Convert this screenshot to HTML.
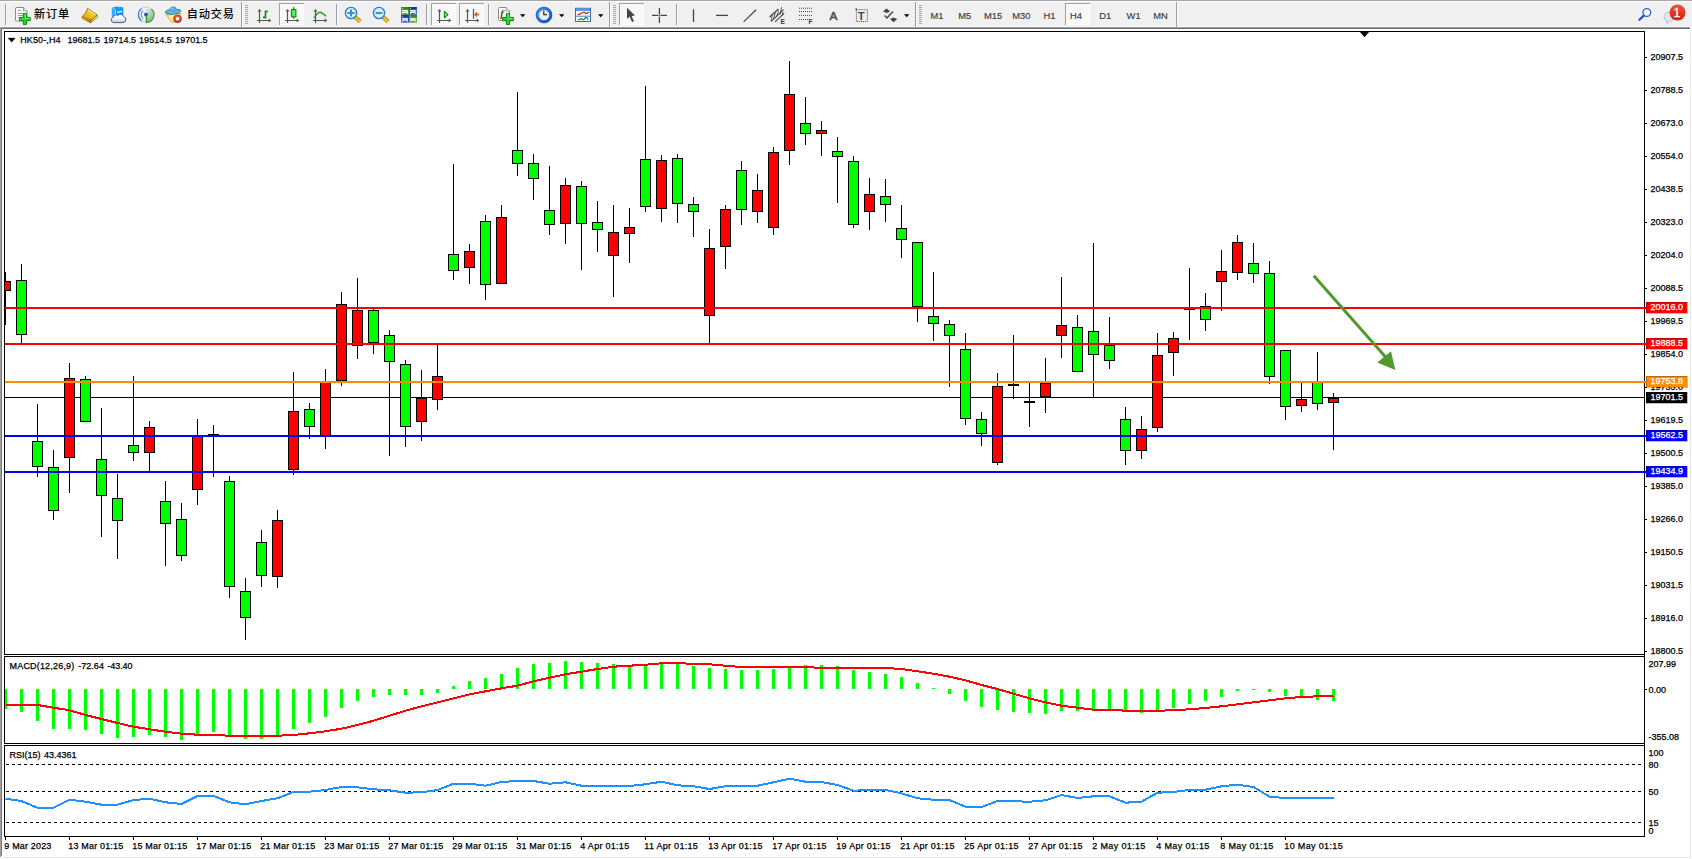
<!DOCTYPE html>
<html lang="zh"><head><meta charset="utf-8"><title>HK50-,H4</title>
<style>html,body{margin:0;padding:0;background:#fff;overflow:hidden}body{width:1692px;height:859px}svg text{white-space:pre}</style></head>
<body>
<svg width="1692" height="859" viewBox="0 0 1692 859" style="display:block">
<defs><linearGradient id="gold" x1="0" y1="0" x2="1" y2="1"><stop offset="0" stop-color="#ffe27a"/><stop offset="1" stop-color="#c8860a"/></linearGradient><linearGradient id="redg" x1="0" y1="0" x2="0" y2="1"><stop offset="0" stop-color="#e8553a"/><stop offset="1" stop-color="#d81e10"/></linearGradient><linearGradient id="blueg" x1="0" y1="0" x2="0" y2="1"><stop offset="0" stop-color="#7db8f0"/><stop offset="1" stop-color="#1c5fc0"/></linearGradient><linearGradient id="blueg2" x1="0" y1="0" x2="1" y2="1"><stop offset="0" stop-color="#3d8df0"/><stop offset="1" stop-color="#0a4fc0"/></linearGradient><linearGradient id="gold2" x1="1" y1="0" x2="0.2" y2="1"><stop offset="0" stop-color="#fff39a"/><stop offset="0.55" stop-color="#f0c21e"/><stop offset="1" stop-color="#e0a410"/></linearGradient><linearGradient id="gold3" x1="0" y1="0" x2="0.3" y2="1"><stop offset="0" stop-color="#f6dc8a"/><stop offset="1" stop-color="#b87a0a"/></linearGradient><linearGradient id="cloudg" x1="0" y1="0" x2="0" y2="1"><stop offset="0" stop-color="#ffffff"/><stop offset="0.5" stop-color="#f2f4fa"/><stop offset="1" stop-color="#b9c2da"/></linearGradient><linearGradient id="sigg" x1="0" y1="0" x2="0.4" y2="1"><stop offset="0" stop-color="#d4ead0"/><stop offset="1" stop-color="#3a9a3a"/></linearGradient><linearGradient id="yelg" x1="0" y1="0" x2="1" y2="0.6"><stop offset="0" stop-color="#f2cf3a"/><stop offset="0.5" stop-color="#fff590"/><stop offset="1" stop-color="#f2d040"/></linearGradient></defs>
<rect width="1692" height="859" fill="#fff"/>
<g id="toolbar">
<rect x="0" y="0" width="1692" height="27" fill="#f0f0f0"/>
<rect x="0" y="0" width="1692" height="1" fill="#a8a8a8"/>
<rect x="0" y="1" width="1692" height="1" fill="#fcfcfc"/>
<rect x="0" y="26" width="1692" height="1" fill="#f8f8f8"/>
<rect x="0" y="27" width="1690" height="1" fill="#a0a0a0"/>
<rect x="0" y="28" width="1690" height="1" fill="#6c6c6c"/>
<rect x="5" y="4" width="1" height="21" fill="#a0a0a0" shape-rendering="crispEdges"/><rect x="6" y="4" width="1" height="21" fill="#f8f8f8" shape-rendering="crispEdges"/>
<path d="M16.5 7.5 h7.0 l3.5 3.5 v9.0 q0 1 -1 1 h-9.5 q-1 0 -1 -1 v-11.5 q0 -1 1 -1 z" fill="#fdfdfd" stroke="#8a8a8a" stroke-width="1"/>
<path d="M23.5 7.5 v3.5 h3.5" fill="#e8e8e8" stroke="#8a8a8a" stroke-width="0.8"/>
<g stroke="#9a9a9a" stroke-width="1" shape-rendering="crispEdges"><path d="M18 10.5 h3 M18 13.5 h6 M18 15.5 h5 M18 17.5 h3"/></g>
<path d="M23.299999999999997 13.6 h3.2 v3.8000000000000003 h3.8000000000000003 v3.2 h-3.8000000000000003 v3.8000000000000003 h-3.2 v-3.8000000000000003 h-3.8000000000000003 v-3.2 h3.8000000000000003 z" fill="#2fd02f" stroke="#0d8c12" stroke-width="1"/>
<path d="M24.299999999999997 14.6 h1.2000000000000002 v3.8000000000000003 h3.8000000000000003 " fill="none" stroke="#9cf59c" stroke-width="0.8" opacity="0.8"/>
<text x="34" y="18.2" font-family="Liberation Sans, Noto Sans CJK SC, sans-serif" font-size="11.2" letter-spacing="0.8" font-weight="500" fill="#000">新订单</text>
<g stroke-linejoin="round"><path d="M97 14.7 L97.8 17 L90.5 22.8 L91.1 20.5 Z" fill="#eadfae" stroke="#9a6408" stroke-width="0.8"/><path d="M87.5 8.3 L97 14.7 L91.1 20.5 L82.2 16.6 Q85.4 13.4 86.2 12 Z" fill="url(#gold2)" stroke="#9a6408" stroke-width="0.9"/><path d="M82.2 16.6 L91.1 20.5 L90.4 22.8 L82.1 18.2 Z" fill="url(#gold3)" stroke="#9a6408" stroke-width="0.8"/><path d="M88 9.6 L95.6 14.7" stroke="#fff7b8" stroke-width="1" opacity="0.8" fill="none"/></g>
<g><path d="M112.2 8 L115.6 6.9 L123 7.6 L123 16 L112.2 16.4 Z" fill="#0a9cff" stroke="#0a78e0" stroke-width="0.5"/><path d="M112.6 8 L115.5 9.8 L115.5 16.4" fill="none" stroke="#e6f4ff" stroke-width="0.7"/><path d="M112.4 8.3 L115.2 10 L115.2 16.3 L112.4 16.3 Z" fill="#35b2ff"/><path d="M117 12.4 L122 11.4" stroke="#eaf6ff" stroke-width="1.2"/><path d="M113.4 22.6 h9.6 a3 3 0 0 0 0.6 -5.9 a3.3 3.3 0 0 0 -5.7 -1.3 a3 3 0 0 0 -4.6 1.6 a2.9 2.9 0 0 0 0.1 5.6 z" fill="url(#cloudg)" stroke="#4a6298" stroke-width="1"/></g>
<g fill="none"><circle cx="146" cy="14.7" r="7.6" stroke="#a9c6ea" stroke-width="1" opacity="0.9"/><path d="M146 14.7 L146 22.6 A7.9 7.9 0 0 0 150.4 8.1 Z" fill="url(#sigg)" opacity="0.6" stroke="none"/><path d="M146.3 22.5 A7.7 7.7 0 0 0 151.4 9" stroke="#3f8f4a" stroke-width="1.2" opacity="0.85"/><path d="M141.6 20.9 A7.7 7.7 0 0 1 141.4 8.6" stroke="#3d74da" stroke-width="1.2"/><path d="M143 18.6 A5 5 0 0 1 143 10.8" stroke="#5a8ce0" stroke-width="1.1"/><path d="M146 9.7 A5 5 0 0 1 150.8 13" stroke="#9fc0a0" stroke-width="1" opacity="0.8"/><circle cx="146" cy="14.5" r="1.9" fill="#2450d0" stroke="none"/><path d="M146.4 15 V22.8" stroke="#1f9a1f" stroke-width="1.3"/></g>
<g><path d="M165.6 13.8 L181 13.2 L173.4 22.4 Q172.4 23 171.6 22.2 Z" fill="url(#yelg)" stroke="#d0a520" stroke-width="0.8" stroke-linejoin="round"/><path d="M165.2 12.2 Q166.3 9.8 169.4 10 Q170 7 173 6.9 Q176 7 176.5 9.5 Q180.6 9.1 181 10.8 Q180 13.5 173.4 14.3 Q167 14.7 165.2 12.2 Z" fill="#62b2e4" stroke="#2781b0" stroke-width="1"/><path d="M169.6 10.4 Q173 12 176.6 9.9" stroke="#2d8cbc" stroke-width="0.6" fill="none" opacity="0.7"/><path d="M170.6 9 Q171.4 7.8 173 7.7" stroke="#c8e8fb" stroke-width="1" fill="none"/><circle cx="177.5" cy="18.7" r="4" fill="url(#redg)" stroke="#b81c0c" stroke-width="0.5"/><rect x="175.8" y="17.1" width="3.4" height="3.3" fill="#fff"/></g>
<text x="186.8" y="18.2" font-family="Liberation Sans, Noto Sans CJK SC, sans-serif" font-size="11.2" letter-spacing="0.8" font-weight="500" fill="#000">自动交易</text>
<rect x="241" y="2" width="1" height="25" fill="#9a9a9a" shape-rendering="crispEdges"/><rect x="242" y="2" width="1" height="25" fill="#fbfbfb" shape-rendering="crispEdges"/>
<rect x="245" y="5" width="3" height="1" fill="#a8a8a8" shape-rendering="crispEdges"/>
<rect x="245" y="7" width="3" height="1" fill="#a8a8a8" shape-rendering="crispEdges"/>
<rect x="245" y="9" width="3" height="1" fill="#a8a8a8" shape-rendering="crispEdges"/>
<rect x="245" y="11" width="3" height="1" fill="#a8a8a8" shape-rendering="crispEdges"/>
<rect x="245" y="13" width="3" height="1" fill="#a8a8a8" shape-rendering="crispEdges"/>
<rect x="245" y="15" width="3" height="1" fill="#a8a8a8" shape-rendering="crispEdges"/>
<rect x="245" y="17" width="3" height="1" fill="#a8a8a8" shape-rendering="crispEdges"/>
<rect x="245" y="19" width="3" height="1" fill="#a8a8a8" shape-rendering="crispEdges"/>
<rect x="245" y="21" width="3" height="1" fill="#a8a8a8" shape-rendering="crispEdges"/>
<rect x="245" y="23" width="3" height="1" fill="#a8a8a8" shape-rendering="crispEdges"/>
<g stroke="#555" stroke-width="1.2" fill="#555"><path d="M259.5 10 V23 M257.0 20.5 H269.5" fill="none"/><path d="M257.5 11.6 L259.5 9 L261.5 11.6 Z M268.7 18.6 L271.3 20.5 L268.7 22.4 Z" stroke="none"/></g>
<path d="M265.5 10.4 V18.6 M265.5 11.5 H268 M263 17.4 H265.5" stroke="#0f8a12" stroke-width="1.7" fill="none"/>
<rect x="279" y="3" width="25" height="22" fill="#f8f8f8" shape-rendering="crispEdges"/><rect x="279" y="3" width="25" height="1" fill="#a0a0a0" shape-rendering="crispEdges"/><rect x="279" y="3" width="1" height="22" fill="#a0a0a0" shape-rendering="crispEdges"/><rect x="303" y="4" width="1" height="21" fill="#fff" shape-rendering="crispEdges"/><rect x="280" y="24" width="24" height="1" fill="#fff" shape-rendering="crispEdges"/>
<g stroke="#555" stroke-width="1.2" fill="#555"><path d="M287.5 10 V23 M285.0 20.5 H297.5" fill="none"/><path d="M285.5 11.6 L287.5 9 L289.5 11.6 Z M296.7 18.6 L299.3 20.5 L296.7 22.4 Z" stroke="none"/></g>
<path d="M293.6 7.2 V18.8" stroke="#0f8a12" stroke-width="1.4"/><rect x="291.4" y="9.6" width="4.5" height="7.2" fill="#5fe85f" stroke="#0f8a12" stroke-width="1.1"/>
<g stroke="#555" stroke-width="1.2" fill="#555"><path d="M315.5 10 V23 M313.0 20.5 H325.5" fill="none"/><path d="M313.5 11.6 L315.5 9 L317.5 11.6 Z M324.7 18.6 L327.3 20.5 L324.7 22.4 Z" stroke="none"/></g>
<path d="M314 17.9 Q318 12 320 12.2 Q322 12.4 326 16.3" stroke="#1f9a1f" stroke-width="1.4" fill="none"/>
<rect x="336" y="4" width="1" height="21" fill="#a0a0a0" shape-rendering="crispEdges"/><rect x="337" y="4" width="1" height="21" fill="#f8f8f8" shape-rendering="crispEdges"/>
<path d="M355 17 L360.2 21.6" stroke="#a07a08" stroke-width="4" stroke-linecap="butt"/><path d="M355 17 L360.2 21.6" stroke="#ecc92c" stroke-width="2.4" stroke-linecap="butt"/><circle cx="351" cy="13" r="5.6" fill="#d9f0fd" stroke="#2d7fd2" stroke-width="1.4"/>
<path d="M347.4 13 H354.6 M351 9.4 V16.6" stroke="#3f8fc0" stroke-width="2"/>
<path d="M383 17 L388.2 21.6" stroke="#a07a08" stroke-width="4" stroke-linecap="butt"/><path d="M383 17 L388.2 21.6" stroke="#ecc92c" stroke-width="2.4" stroke-linecap="butt"/><circle cx="379" cy="13" r="5.6" fill="#d9f0fd" stroke="#2d7fd2" stroke-width="1.4"/>
<path d="M375.7 13 H382.3" stroke="#3f8fc0" stroke-width="2"/>
<rect x="401.2" y="7" width="7.8" height="7.8" fill="#46a01a"/><rect x="401.2" y="7" width="7.8" height="2" fill="#2e8a0c"/><path d="M402.4 13.9 v-3.8 h5.4 v3.8 h-1 v-1 h-3.4 v1 z" fill="#fff"/><rect x="403.4" y="11" width="3.4" height="0.8" fill="#46a01a" opacity="0.55"/><rect x="402.2" y="7.9" width="1" height="1" fill="#dfe" opacity="0.8"/>
<rect x="409" y="7" width="7.8" height="7.8" fill="#1f55d0"/><rect x="409" y="7" width="7.8" height="2" fill="#0c38a8"/><path d="M410.2 13.9 v-3.8 h5.4 v3.8 h-1 v-1 h-3.4 v1 z" fill="#fff"/><rect x="411.2" y="11" width="3.4" height="0.8" fill="#1f55d0" opacity="0.55"/><rect x="410" y="7.9" width="1" height="1" fill="#dfe" opacity="0.8"/>
<rect x="401.2" y="14.8" width="7.8" height="7.8" fill="#1f55d0"/><rect x="401.2" y="14.8" width="7.8" height="2" fill="#0c38a8"/><path d="M402.4 21.700000000000003 v-3.8 h5.4 v3.8 h-1 v-1 h-3.4 v1 z" fill="#fff"/><rect x="403.4" y="18.8" width="3.4" height="0.8" fill="#1f55d0" opacity="0.55"/><rect x="402.2" y="15.700000000000001" width="1" height="1" fill="#dfe" opacity="0.8"/>
<rect x="409" y="14.8" width="7.8" height="7.8" fill="#46a01a"/><rect x="409" y="14.8" width="7.8" height="2" fill="#2e8a0c"/><path d="M410.2 21.700000000000003 v-3.8 h5.4 v3.8 h-1 v-1 h-3.4 v1 z" fill="#fff"/><rect x="411.2" y="18.8" width="3.4" height="0.8" fill="#46a01a" opacity="0.55"/><rect x="410" y="15.700000000000001" width="1" height="1" fill="#dfe" opacity="0.8"/>
<rect x="426" y="4" width="1" height="21" fill="#a0a0a0" shape-rendering="crispEdges"/><rect x="427" y="4" width="1" height="21" fill="#f8f8f8" shape-rendering="crispEdges"/>
<rect x="431" y="3" width="25" height="22" fill="#f8f8f8" shape-rendering="crispEdges"/><rect x="431" y="3" width="25" height="1" fill="#a0a0a0" shape-rendering="crispEdges"/><rect x="431" y="3" width="1" height="22" fill="#a0a0a0" shape-rendering="crispEdges"/><rect x="455" y="4" width="1" height="21" fill="#fff" shape-rendering="crispEdges"/><rect x="432" y="24" width="24" height="1" fill="#fff" shape-rendering="crispEdges"/>
<g stroke="#555" stroke-width="1.2" fill="#555"><path d="M439.5 10 V23 M437.0 20.5 H449.5" fill="none"/><path d="M437.5 11.6 L439.5 9 L441.5 11.6 Z M448.7 18.6 L451.3 20.5 L448.7 22.4 Z" stroke="none"/></g>
<path d="M444.4 11.3 L448 14.6 L444.4 17.9 Z" fill="#7be87b" stroke="#0f8a12" stroke-width="1.1" stroke-linejoin="round"/>
<rect x="459" y="3" width="25" height="22" fill="#f8f8f8" shape-rendering="crispEdges"/><rect x="459" y="3" width="25" height="1" fill="#a0a0a0" shape-rendering="crispEdges"/><rect x="459" y="3" width="1" height="22" fill="#a0a0a0" shape-rendering="crispEdges"/><rect x="483" y="4" width="1" height="21" fill="#fff" shape-rendering="crispEdges"/><rect x="460" y="24" width="24" height="1" fill="#fff" shape-rendering="crispEdges"/>
<g stroke="#555" stroke-width="1.2" fill="#555"><path d="M467.5 10 V23 M465.0 20.5 H477.5" fill="none"/><path d="M465.5 11.6 L467.5 9 L469.5 11.6 Z M476.7 18.6 L479.3 20.5 L476.7 22.4 Z" stroke="none"/></g>
<path d="M473.5 9 V18.8" stroke="#1b6fa8" stroke-width="1.3"/><path d="M474.6 14.5 H479 M474.6 14.5 L477 12.4 M474.6 14.5 L477 16.6" stroke="#e05a10" stroke-width="1.3" fill="none"/>
<rect x="488" y="4" width="1" height="21" fill="#a0a0a0" shape-rendering="crispEdges"/><rect x="489" y="4" width="1" height="21" fill="#f8f8f8" shape-rendering="crispEdges"/>
<path d="M499.5 7.5 h6.5 l3.5 3.5 v8.5 q0 1 -1 1 h-9 q-1 0 -1 -1 v-11 q0 -1 1 -1 z" fill="#fdfdfd" stroke="#8a8a8a" stroke-width="1"/>
<path d="M506.0 7.5 v3.5 h3.5" fill="#e8e8e8" stroke="#8a8a8a" stroke-width="0.8"/>
<text x="500.2" y="17.4" font-family="Liberation Serif, serif" font-style="italic" font-weight="bold" font-size="10.5" fill="#4a4436">f</text>
<path d="M506.4 13.700000000000001 h3.2 v3.8000000000000003 h3.8000000000000003 v3.2 h-3.8000000000000003 v3.8000000000000003 h-3.2 v-3.8000000000000003 h-3.8000000000000003 v-3.2 h3.8000000000000003 z" fill="#2fd02f" stroke="#0d8c12" stroke-width="1"/>
<path d="M507.4 14.700000000000001 h1.2000000000000002 v3.8000000000000003 h3.8000000000000003 " fill="none" stroke="#9cf59c" stroke-width="0.8" opacity="0.8"/>
<path d="M520 14.2 h5.4 l-2.7 3 z" fill="#000"/>
<circle cx="544" cy="15" r="6.7" fill="#eef1f6" stroke="url(#blueg2)" stroke-width="2.7"/><circle cx="544" cy="15" r="8" fill="none" stroke="#0a3f9a" stroke-width="0.5"/><circle cx="548.40" cy="15.00" r="0.38" fill="#777"/><circle cx="547.81" cy="17.20" r="0.38" fill="#777"/><circle cx="546.20" cy="18.81" r="0.38" fill="#777"/><circle cx="544.00" cy="19.40" r="0.38" fill="#777"/><circle cx="541.80" cy="18.81" r="0.38" fill="#777"/><circle cx="540.19" cy="17.20" r="0.38" fill="#777"/><circle cx="539.60" cy="15.00" r="0.38" fill="#777"/><circle cx="540.19" cy="12.80" r="0.38" fill="#777"/><circle cx="541.80" cy="11.19" r="0.38" fill="#777"/><circle cx="544.00" cy="10.60" r="0.38" fill="#777"/><circle cx="546.20" cy="11.19" r="0.38" fill="#777"/><circle cx="547.81" cy="12.80" r="0.38" fill="#777"/><path d="M543.8 15.2 V10.6 M543.6 14.8 L547 14.6" stroke="#222" stroke-width="1.1" fill="none"/><path d="M544 17.4 h0.1" stroke="#5aa0ff" stroke-width="1.2"/>
<path d="M559 14.2 h5.4 l-2.7 3 z" fill="#000"/>
<rect x="575.5" y="8.3" width="15" height="13.2" fill="#fff" stroke="#2f6fc4" stroke-width="1"/><rect x="576" y="8.8" width="14" height="2.2" fill="#5a98e0"/><path d="M576 16.2 H590" stroke="#3f7fd0" stroke-width="1"/><path d="M577.6 14.3 H579.6 L581 13 H582.6 L583.6 12.4 H584.8 L585.6 13.3 H587.4 L588.4 12.4 H589.2" stroke="#b02a14" stroke-width="1.2" fill="none"/><path d="M578.2 19.6 H579.8 L580.8 18.8 H582 L582.8 19.6 H583.8 L585.4 17.6 H586.6 L588.2 19.6" stroke="#158a1c" stroke-width="1.2" fill="none"/>
<path d="M598 14.2 h5.4 l-2.7 3 z" fill="#000"/>
<rect x="609" y="2" width="1" height="25" fill="#9a9a9a" shape-rendering="crispEdges"/><rect x="610" y="2" width="1" height="25" fill="#fbfbfb" shape-rendering="crispEdges"/>
<rect x="613" y="5" width="3" height="1" fill="#a8a8a8" shape-rendering="crispEdges"/>
<rect x="613" y="7" width="3" height="1" fill="#a8a8a8" shape-rendering="crispEdges"/>
<rect x="613" y="9" width="3" height="1" fill="#a8a8a8" shape-rendering="crispEdges"/>
<rect x="613" y="11" width="3" height="1" fill="#a8a8a8" shape-rendering="crispEdges"/>
<rect x="613" y="13" width="3" height="1" fill="#a8a8a8" shape-rendering="crispEdges"/>
<rect x="613" y="15" width="3" height="1" fill="#a8a8a8" shape-rendering="crispEdges"/>
<rect x="613" y="17" width="3" height="1" fill="#a8a8a8" shape-rendering="crispEdges"/>
<rect x="613" y="19" width="3" height="1" fill="#a8a8a8" shape-rendering="crispEdges"/>
<rect x="613" y="21" width="3" height="1" fill="#a8a8a8" shape-rendering="crispEdges"/>
<rect x="613" y="23" width="3" height="1" fill="#a8a8a8" shape-rendering="crispEdges"/>
<rect x="619" y="3" width="25" height="22" fill="#f8f8f8" shape-rendering="crispEdges"/><rect x="619" y="3" width="25" height="1" fill="#a0a0a0" shape-rendering="crispEdges"/><rect x="619" y="3" width="1" height="22" fill="#a0a0a0" shape-rendering="crispEdges"/><rect x="643" y="4" width="1" height="21" fill="#fff" shape-rendering="crispEdges"/><rect x="620" y="24" width="24" height="1" fill="#fff" shape-rendering="crispEdges"/>
<path d="M627 7.8 L627 18.9 L629.6 16.6 L632 22 L634 21.2 L631.6 15.9 L635 15.5 Z" fill="#454545"/>
<path d="M652 15.4 H658.4 M660.4 15.4 H667 M659.4 8 V14.4 M659.4 16.4 V23" stroke="#454545" stroke-width="1.3"/><rect x="659" y="15" width="0.9" height="0.9" fill="#454545"/>
<rect x="676" y="4" width="1" height="21" fill="#a0a0a0" shape-rendering="crispEdges"/><rect x="677" y="4" width="1" height="21" fill="#f8f8f8" shape-rendering="crispEdges"/>
<path d="M693.5 9.3 V22" stroke="#454545" stroke-width="1.3"/>
<path d="M716 15.4 H728" stroke="#454545" stroke-width="1.3"/>
<path d="M743.6 21.9 L756.1 9.7" stroke="#454545" stroke-width="1.2"/>
<g stroke="#454545" stroke-width="1.1" fill="none"><path d="M769.6 17 L778.4 9 M771 21.6 L783.6 9.6 M775 21.8 L784.2 13.4"/><path d="M772.4 14 L771.2 20.6 M775.4 12 L773.6 19 M778.6 10.6 L776.4 17 M781.6 7.2 L780.2 14.6 M783 12 L782 16" stroke-width="0.9"/></g>
<text x="780.6" y="23.8" font-family="Liberation Sans, sans-serif" font-weight="bold" font-size="6.6" fill="#333">E</text>
<path d="M799 8.2 H812.6" stroke="#454545" stroke-width="1" stroke-dasharray="1 1"/>
<path d="M799 11.5 H812.6" stroke="#454545" stroke-width="1" stroke-dasharray="1 1"/>
<path d="M799 15.4 H812.6" stroke="#454545" stroke-width="1" stroke-dasharray="1 1"/>
<path d="M799 19.5 H808.5" stroke="#454545" stroke-width="1" stroke-dasharray="1 1"/>
<text x="808.6" y="23.8" font-family="Liberation Sans, sans-serif" font-weight="bold" font-size="6.6" fill="#333">F</text>
<text x="829.6" y="19.9" font-family="Liberation Sans, sans-serif" font-size="11.8" fill="#4a4a4a" stroke="#4a4a4a" stroke-width="0.5">A</text>
<rect x="856.4" y="9.7" width="11" height="11.8" fill="none" stroke="#454545" stroke-width="1" stroke-dasharray="1 1"/><rect x="855.4" y="8.4" width="1.6" height="1.4" fill="#454545"/>
<text x="857.7" y="19.6" font-family="Liberation Sans, sans-serif" font-weight="bold" font-size="11.4" fill="#4a4a4a">T</text>
<path d="M883 11.6 L886.6 8.6 L890.2 11.6 L886.6 13 Z M890 19 L893.6 22.2 L897.2 19 L893.6 17.6 Z" fill="#454545"/><path d="M884.6 15.6 L887 18 L893 11.6" stroke="#454545" stroke-width="1.4" fill="none"/>
<path d="M904 14.2 h5.4 l-2.7 3 z" fill="#000"/>
<rect x="915" y="2" width="1" height="25" fill="#9a9a9a" shape-rendering="crispEdges"/><rect x="916" y="2" width="1" height="25" fill="#fbfbfb" shape-rendering="crispEdges"/>
<rect x="919" y="5" width="3" height="1" fill="#a8a8a8" shape-rendering="crispEdges"/>
<rect x="919" y="7" width="3" height="1" fill="#a8a8a8" shape-rendering="crispEdges"/>
<rect x="919" y="9" width="3" height="1" fill="#a8a8a8" shape-rendering="crispEdges"/>
<rect x="919" y="11" width="3" height="1" fill="#a8a8a8" shape-rendering="crispEdges"/>
<rect x="919" y="13" width="3" height="1" fill="#a8a8a8" shape-rendering="crispEdges"/>
<rect x="919" y="15" width="3" height="1" fill="#a8a8a8" shape-rendering="crispEdges"/>
<rect x="919" y="17" width="3" height="1" fill="#a8a8a8" shape-rendering="crispEdges"/>
<rect x="919" y="19" width="3" height="1" fill="#a8a8a8" shape-rendering="crispEdges"/>
<rect x="919" y="21" width="3" height="1" fill="#a8a8a8" shape-rendering="crispEdges"/>
<rect x="919" y="23" width="3" height="1" fill="#a8a8a8" shape-rendering="crispEdges"/>
<rect x="1065" y="3" width="25" height="22" fill="#f8f8f8" shape-rendering="crispEdges"/><rect x="1065" y="3" width="25" height="1" fill="#a0a0a0" shape-rendering="crispEdges"/><rect x="1065" y="3" width="1" height="22" fill="#a0a0a0" shape-rendering="crispEdges"/><rect x="1089" y="4" width="1" height="21" fill="#fff" shape-rendering="crispEdges"/><rect x="1066" y="24" width="24" height="1" fill="#fff" shape-rendering="crispEdges"/>
<text x="930.4" y="18.6" font-family="Liberation Sans, sans-serif" font-size="9.4" fill="#3a3a3a" stroke="#3a3a3a" stroke-width="0.15">M1</text>
<text x="958.3" y="18.6" font-family="Liberation Sans, sans-serif" font-size="9.4" fill="#3a3a3a" stroke="#3a3a3a" stroke-width="0.15">M5</text>
<text x="984" y="18.6" font-family="Liberation Sans, sans-serif" font-size="9.4" fill="#3a3a3a" stroke="#3a3a3a" stroke-width="0.15">M15</text>
<text x="1012.3" y="18.6" font-family="Liberation Sans, sans-serif" font-size="9.4" fill="#3a3a3a" stroke="#3a3a3a" stroke-width="0.15">M30</text>
<text x="1043.4" y="18.6" font-family="Liberation Sans, sans-serif" font-size="9.4" fill="#3a3a3a" stroke="#3a3a3a" stroke-width="0.15">H1</text>
<text x="1070" y="18.6" font-family="Liberation Sans, sans-serif" font-size="9.4" fill="#3a3a3a" stroke="#3a3a3a" stroke-width="0.15">H4</text>
<text x="1099.2" y="18.6" font-family="Liberation Sans, sans-serif" font-size="9.4" fill="#3a3a3a" stroke="#3a3a3a" stroke-width="0.15">D1</text>
<text x="1126.6" y="18.6" font-family="Liberation Sans, sans-serif" font-size="9.4" fill="#3a3a3a" stroke="#3a3a3a" stroke-width="0.15">W1</text>
<text x="1153.2" y="18.6" font-family="Liberation Sans, sans-serif" font-size="9.4" fill="#3a3a3a" stroke="#3a3a3a" stroke-width="0.15">MN</text>
<rect x="1176" y="2" width="1" height="25" fill="#a0a0a0" shape-rendering="crispEdges"/><rect x="1177" y="2" width="1" height="25" fill="#f8f8f8" shape-rendering="crispEdges"/>
<circle cx="1646.8" cy="12.5" r="3.9" fill="#f4f8ff" stroke="#2a5fd0" stroke-width="1.3"/><path d="M1643.8 15.6 L1639.4 19.8" stroke="#1f50c8" stroke-width="2.2" stroke-linecap="round"/>
<path d="M1664 17 a5.2 4.6 0 1 1 5.4 4.4 l-2.6 2.2 l0.2 -2.4 a5 4.4 0 0 1 -3 -4.2 z" fill="#e4e6ee" stroke="#b4b6be" stroke-width="0.8"/>
<circle cx="1677.5" cy="12.5" r="8" fill="url(#redg)"/>
<text x="1673.5" y="16.7" font-family="Liberation Sans, sans-serif" font-size="12" fill="#fff" stroke="#fff" stroke-width="0.3">1</text>
</g>
<rect x="0" y="27" width="1" height="830" fill="#a0a0a0"/>
<rect x="1" y="28" width="1" height="828" fill="#787878"/>
<rect x="1690" y="29" width="1" height="829" fill="#e6e6e6"/>
<rect x="1" y="857" width="1690" height="1" fill="#e6e6e6"/>
<g shape-rendering="crispEdges">
<rect x="5" y="397" width="1639" height="1" fill="#000"/>
<rect x="5" y="272" width="1" height="53" fill="#000"/>
<rect x="5" y="281" width="6" height="10" fill="#000"/>
<rect x="5" y="282" width="5" height="8" fill="#FF0000"/>
<rect x="21" y="264" width="1" height="79" fill="#000"/>
<rect x="16" y="280" width="11" height="55" fill="#000"/>
<rect x="17" y="281" width="9" height="53" fill="#00FF00"/>
<rect x="37" y="404" width="1" height="73" fill="#000"/>
<rect x="32" y="441" width="11" height="26" fill="#000"/>
<rect x="33" y="442" width="9" height="24" fill="#00FF00"/>
<rect x="53" y="450" width="1" height="70" fill="#000"/>
<rect x="48" y="467" width="11" height="44" fill="#000"/>
<rect x="49" y="468" width="9" height="42" fill="#00FF00"/>
<rect x="69" y="363" width="1" height="130" fill="#000"/>
<rect x="64" y="378" width="11" height="80" fill="#000"/>
<rect x="65" y="379" width="9" height="78" fill="#FF0000"/>
<rect x="85" y="376" width="1" height="46" fill="#000"/>
<rect x="80" y="379" width="11" height="43" fill="#000"/>
<rect x="81" y="380" width="9" height="41" fill="#00FF00"/>
<rect x="101" y="408" width="1" height="129" fill="#000"/>
<rect x="96" y="459" width="11" height="37" fill="#000"/>
<rect x="97" y="460" width="9" height="35" fill="#00FF00"/>
<rect x="117" y="474" width="1" height="85" fill="#000"/>
<rect x="112" y="498" width="11" height="23" fill="#000"/>
<rect x="113" y="499" width="9" height="21" fill="#00FF00"/>
<rect x="133" y="376" width="1" height="85" fill="#000"/>
<rect x="128" y="445" width="11" height="8" fill="#000"/>
<rect x="129" y="446" width="9" height="6" fill="#00FF00"/>
<rect x="149" y="421" width="1" height="50" fill="#000"/>
<rect x="144" y="427" width="11" height="26" fill="#000"/>
<rect x="145" y="428" width="9" height="24" fill="#FF0000"/>
<rect x="165" y="481" width="1" height="85" fill="#000"/>
<rect x="160" y="501" width="11" height="23" fill="#000"/>
<rect x="161" y="502" width="9" height="21" fill="#00FF00"/>
<rect x="181" y="503" width="1" height="58" fill="#000"/>
<rect x="176" y="519" width="11" height="37" fill="#000"/>
<rect x="177" y="520" width="9" height="35" fill="#00FF00"/>
<rect x="197" y="419" width="1" height="86" fill="#000"/>
<rect x="192" y="435" width="11" height="55" fill="#000"/>
<rect x="193" y="436" width="9" height="53" fill="#FF0000"/>
<rect x="213" y="425" width="1" height="52" fill="#000"/>
<rect x="208" y="434" width="11" height="1" fill="#000"/>
<rect x="229" y="476" width="1" height="122" fill="#000"/>
<rect x="224" y="481" width="11" height="106" fill="#000"/>
<rect x="225" y="482" width="9" height="104" fill="#00FF00"/>
<rect x="245" y="578" width="1" height="62" fill="#000"/>
<rect x="240" y="591" width="11" height="27" fill="#000"/>
<rect x="241" y="592" width="9" height="25" fill="#00FF00"/>
<rect x="261" y="530" width="1" height="57" fill="#000"/>
<rect x="256" y="542" width="11" height="34" fill="#000"/>
<rect x="257" y="543" width="9" height="32" fill="#00FF00"/>
<rect x="277" y="510" width="1" height="78" fill="#000"/>
<rect x="272" y="520" width="11" height="57" fill="#000"/>
<rect x="273" y="521" width="9" height="55" fill="#FF0000"/>
<rect x="293" y="372" width="1" height="103" fill="#000"/>
<rect x="288" y="411" width="11" height="59" fill="#000"/>
<rect x="289" y="412" width="9" height="57" fill="#FF0000"/>
<rect x="309" y="403" width="1" height="36" fill="#000"/>
<rect x="304" y="409" width="11" height="18" fill="#000"/>
<rect x="305" y="410" width="9" height="16" fill="#00FF00"/>
<rect x="325" y="369" width="1" height="80" fill="#000"/>
<rect x="320" y="382" width="11" height="54" fill="#000"/>
<rect x="321" y="383" width="9" height="52" fill="#FF0000"/>
<rect x="341" y="292" width="1" height="94" fill="#000"/>
<rect x="336" y="304" width="11" height="77" fill="#000"/>
<rect x="337" y="305" width="9" height="75" fill="#FF0000"/>
<rect x="357" y="278" width="1" height="81" fill="#000"/>
<rect x="352" y="310" width="11" height="36" fill="#000"/>
<rect x="353" y="311" width="9" height="34" fill="#FF0000"/>
<rect x="373" y="308" width="1" height="46" fill="#000"/>
<rect x="368" y="310" width="11" height="33" fill="#000"/>
<rect x="369" y="311" width="9" height="31" fill="#00FF00"/>
<rect x="389" y="330" width="1" height="126" fill="#000"/>
<rect x="384" y="335" width="11" height="27" fill="#000"/>
<rect x="385" y="336" width="9" height="25" fill="#00FF00"/>
<rect x="405" y="360" width="1" height="87" fill="#000"/>
<rect x="400" y="364" width="11" height="63" fill="#000"/>
<rect x="401" y="365" width="9" height="61" fill="#00FF00"/>
<rect x="421" y="370" width="1" height="71" fill="#000"/>
<rect x="416" y="398" width="11" height="24" fill="#000"/>
<rect x="417" y="399" width="9" height="22" fill="#FF0000"/>
<rect x="437" y="344" width="1" height="66" fill="#000"/>
<rect x="432" y="376" width="11" height="24" fill="#000"/>
<rect x="433" y="377" width="9" height="22" fill="#FF0000"/>
<rect x="453" y="164" width="1" height="116" fill="#000"/>
<rect x="448" y="254" width="11" height="17" fill="#000"/>
<rect x="449" y="255" width="9" height="15" fill="#00FF00"/>
<rect x="469" y="244" width="1" height="40" fill="#000"/>
<rect x="464" y="251" width="11" height="17" fill="#000"/>
<rect x="465" y="252" width="9" height="15" fill="#FF0000"/>
<rect x="485" y="215" width="1" height="85" fill="#000"/>
<rect x="480" y="221" width="11" height="64" fill="#000"/>
<rect x="481" y="222" width="9" height="62" fill="#00FF00"/>
<rect x="501" y="205" width="1" height="79" fill="#000"/>
<rect x="496" y="217" width="11" height="67" fill="#000"/>
<rect x="497" y="218" width="9" height="65" fill="#FF0000"/>
<rect x="517" y="92" width="1" height="84" fill="#000"/>
<rect x="512" y="150" width="11" height="14" fill="#000"/>
<rect x="513" y="151" width="9" height="12" fill="#00FF00"/>
<rect x="533" y="154" width="1" height="46" fill="#000"/>
<rect x="528" y="163" width="11" height="16" fill="#000"/>
<rect x="529" y="164" width="9" height="14" fill="#00FF00"/>
<rect x="549" y="166" width="1" height="69" fill="#000"/>
<rect x="544" y="210" width="11" height="15" fill="#000"/>
<rect x="545" y="211" width="9" height="13" fill="#00FF00"/>
<rect x="565" y="178" width="1" height="66" fill="#000"/>
<rect x="560" y="185" width="11" height="39" fill="#000"/>
<rect x="561" y="186" width="9" height="37" fill="#FF0000"/>
<rect x="581" y="181" width="1" height="89" fill="#000"/>
<rect x="576" y="186" width="11" height="38" fill="#000"/>
<rect x="577" y="187" width="9" height="36" fill="#00FF00"/>
<rect x="597" y="201" width="1" height="51" fill="#000"/>
<rect x="592" y="222" width="11" height="8" fill="#000"/>
<rect x="593" y="223" width="9" height="6" fill="#00FF00"/>
<rect x="613" y="205" width="1" height="92" fill="#000"/>
<rect x="608" y="232" width="11" height="24" fill="#000"/>
<rect x="609" y="233" width="9" height="22" fill="#FF0000"/>
<rect x="629" y="208" width="1" height="55" fill="#000"/>
<rect x="624" y="227" width="11" height="7" fill="#000"/>
<rect x="625" y="228" width="9" height="5" fill="#FF0000"/>
<rect x="645" y="86" width="1" height="126" fill="#000"/>
<rect x="640" y="159" width="11" height="48" fill="#000"/>
<rect x="641" y="160" width="9" height="46" fill="#00FF00"/>
<rect x="661" y="155" width="1" height="67" fill="#000"/>
<rect x="656" y="160" width="11" height="49" fill="#000"/>
<rect x="657" y="161" width="9" height="47" fill="#FF0000"/>
<rect x="677" y="154" width="1" height="69" fill="#000"/>
<rect x="672" y="158" width="11" height="46" fill="#000"/>
<rect x="673" y="159" width="9" height="44" fill="#00FF00"/>
<rect x="693" y="197" width="1" height="40" fill="#000"/>
<rect x="688" y="204" width="11" height="8" fill="#000"/>
<rect x="689" y="205" width="9" height="6" fill="#00FF00"/>
<rect x="709" y="229" width="1" height="114" fill="#000"/>
<rect x="704" y="248" width="11" height="68" fill="#000"/>
<rect x="705" y="249" width="9" height="66" fill="#FF0000"/>
<rect x="725" y="205" width="1" height="64" fill="#000"/>
<rect x="720" y="209" width="11" height="38" fill="#000"/>
<rect x="721" y="210" width="9" height="36" fill="#FF0000"/>
<rect x="741" y="161" width="1" height="64" fill="#000"/>
<rect x="736" y="170" width="11" height="40" fill="#000"/>
<rect x="737" y="171" width="9" height="38" fill="#00FF00"/>
<rect x="757" y="174" width="1" height="49" fill="#000"/>
<rect x="752" y="190" width="11" height="22" fill="#000"/>
<rect x="753" y="191" width="9" height="20" fill="#FF0000"/>
<rect x="773" y="147" width="1" height="88" fill="#000"/>
<rect x="768" y="152" width="11" height="76" fill="#000"/>
<rect x="769" y="153" width="9" height="74" fill="#FF0000"/>
<rect x="789" y="61" width="1" height="104" fill="#000"/>
<rect x="784" y="94" width="11" height="57" fill="#000"/>
<rect x="785" y="95" width="9" height="55" fill="#FF0000"/>
<rect x="805" y="97" width="1" height="48" fill="#000"/>
<rect x="800" y="123" width="11" height="11" fill="#000"/>
<rect x="801" y="124" width="9" height="9" fill="#00FF00"/>
<rect x="821" y="121" width="1" height="35" fill="#000"/>
<rect x="816" y="130" width="11" height="4" fill="#000"/>
<rect x="817" y="131" width="9" height="2" fill="#FF0000"/>
<rect x="837" y="137" width="1" height="66" fill="#000"/>
<rect x="832" y="151" width="11" height="6" fill="#000"/>
<rect x="833" y="152" width="9" height="4" fill="#00FF00"/>
<rect x="853" y="156" width="1" height="72" fill="#000"/>
<rect x="848" y="161" width="11" height="64" fill="#000"/>
<rect x="849" y="162" width="9" height="62" fill="#00FF00"/>
<rect x="869" y="178" width="1" height="52" fill="#000"/>
<rect x="864" y="194" width="11" height="18" fill="#000"/>
<rect x="865" y="195" width="9" height="16" fill="#FF0000"/>
<rect x="885" y="179" width="1" height="43" fill="#000"/>
<rect x="880" y="196" width="11" height="9" fill="#000"/>
<rect x="881" y="197" width="9" height="7" fill="#00FF00"/>
<rect x="901" y="205" width="1" height="53" fill="#000"/>
<rect x="896" y="228" width="11" height="12" fill="#000"/>
<rect x="897" y="229" width="9" height="10" fill="#00FF00"/>
<rect x="917" y="242" width="1" height="80" fill="#000"/>
<rect x="912" y="242" width="11" height="65" fill="#000"/>
<rect x="913" y="243" width="9" height="63" fill="#00FF00"/>
<rect x="933" y="272" width="1" height="69" fill="#000"/>
<rect x="928" y="316" width="11" height="8" fill="#000"/>
<rect x="929" y="317" width="9" height="6" fill="#00FF00"/>
<rect x="949" y="320" width="1" height="67" fill="#000"/>
<rect x="944" y="324" width="11" height="12" fill="#000"/>
<rect x="945" y="325" width="9" height="10" fill="#00FF00"/>
<rect x="965" y="333" width="1" height="92" fill="#000"/>
<rect x="960" y="349" width="11" height="70" fill="#000"/>
<rect x="961" y="350" width="9" height="68" fill="#00FF00"/>
<rect x="981" y="412" width="1" height="34" fill="#000"/>
<rect x="976" y="419" width="11" height="15" fill="#000"/>
<rect x="977" y="420" width="9" height="13" fill="#00FF00"/>
<rect x="997" y="373" width="1" height="92" fill="#000"/>
<rect x="992" y="386" width="11" height="77" fill="#000"/>
<rect x="993" y="387" width="9" height="75" fill="#FF0000"/>
<rect x="1013" y="335" width="1" height="64" fill="#000"/>
<rect x="1008" y="384" width="11" height="2" fill="#000"/>
<rect x="1029" y="383" width="1" height="44" fill="#000"/>
<rect x="1024" y="401" width="11" height="2" fill="#000"/>
<rect x="1045" y="358" width="1" height="55" fill="#000"/>
<rect x="1040" y="383" width="11" height="14" fill="#000"/>
<rect x="1041" y="384" width="9" height="12" fill="#FF0000"/>
<rect x="1061" y="277" width="1" height="81" fill="#000"/>
<rect x="1056" y="325" width="11" height="11" fill="#000"/>
<rect x="1057" y="326" width="9" height="9" fill="#FF0000"/>
<rect x="1077" y="315" width="1" height="57" fill="#000"/>
<rect x="1072" y="327" width="11" height="45" fill="#000"/>
<rect x="1073" y="328" width="9" height="43" fill="#00FF00"/>
<rect x="1093" y="243" width="1" height="155" fill="#000"/>
<rect x="1088" y="331" width="11" height="24" fill="#000"/>
<rect x="1089" y="332" width="9" height="22" fill="#00FF00"/>
<rect x="1109" y="317" width="1" height="52" fill="#000"/>
<rect x="1104" y="345" width="11" height="16" fill="#000"/>
<rect x="1105" y="346" width="9" height="14" fill="#00FF00"/>
<rect x="1125" y="407" width="1" height="58" fill="#000"/>
<rect x="1120" y="419" width="11" height="32" fill="#000"/>
<rect x="1121" y="420" width="9" height="30" fill="#00FF00"/>
<rect x="1141" y="416" width="1" height="43" fill="#000"/>
<rect x="1136" y="429" width="11" height="22" fill="#000"/>
<rect x="1137" y="430" width="9" height="20" fill="#FF0000"/>
<rect x="1157" y="333" width="1" height="99" fill="#000"/>
<rect x="1152" y="355" width="11" height="73" fill="#000"/>
<rect x="1153" y="356" width="9" height="71" fill="#FF0000"/>
<rect x="1173" y="332" width="1" height="44" fill="#000"/>
<rect x="1168" y="338" width="11" height="15" fill="#000"/>
<rect x="1169" y="339" width="9" height="13" fill="#FF0000"/>
<rect x="1189" y="268" width="1" height="72" fill="#000"/>
<rect x="1184" y="309" width="11" height="1" fill="#000"/>
<rect x="1205" y="293" width="1" height="38" fill="#000"/>
<rect x="1200" y="306" width="11" height="14" fill="#000"/>
<rect x="1201" y="307" width="9" height="12" fill="#00FF00"/>
<rect x="1221" y="250" width="1" height="61" fill="#000"/>
<rect x="1216" y="271" width="11" height="11" fill="#000"/>
<rect x="1217" y="272" width="9" height="9" fill="#FF0000"/>
<rect x="1237" y="235" width="1" height="45" fill="#000"/>
<rect x="1232" y="242" width="11" height="31" fill="#000"/>
<rect x="1233" y="243" width="9" height="29" fill="#FF0000"/>
<rect x="1253" y="243" width="1" height="40" fill="#000"/>
<rect x="1248" y="263" width="11" height="11" fill="#000"/>
<rect x="1249" y="264" width="9" height="9" fill="#00FF00"/>
<rect x="1269" y="261" width="1" height="123" fill="#000"/>
<rect x="1264" y="273" width="11" height="104" fill="#000"/>
<rect x="1265" y="274" width="9" height="102" fill="#00FF00"/>
<rect x="1285" y="350" width="1" height="70" fill="#000"/>
<rect x="1280" y="350" width="11" height="57" fill="#000"/>
<rect x="1281" y="351" width="9" height="55" fill="#00FF00"/>
<rect x="1301" y="383" width="1" height="29" fill="#000"/>
<rect x="1296" y="399" width="11" height="7" fill="#000"/>
<rect x="1297" y="400" width="9" height="5" fill="#FF0000"/>
<rect x="1317" y="352" width="1" height="58" fill="#000"/>
<rect x="1312" y="382" width="11" height="22" fill="#000"/>
<rect x="1313" y="383" width="9" height="20" fill="#00FF00"/>
<rect x="1333" y="393" width="1" height="57" fill="#000"/>
<rect x="1328" y="398" width="11" height="5" fill="#000"/>
<rect x="1329" y="399" width="9" height="3" fill="#FF0000"/>
<rect x="4" y="689" width="3" height="20" fill="#00FF00"/>
<rect x="20" y="689" width="3" height="23" fill="#00FF00"/>
<rect x="36" y="689" width="3" height="32" fill="#00FF00"/>
<rect x="52" y="689" width="3" height="40" fill="#00FF00"/>
<rect x="68" y="689" width="3" height="40" fill="#00FF00"/>
<rect x="84" y="689" width="3" height="41" fill="#00FF00"/>
<rect x="100" y="689" width="3" height="45" fill="#00FF00"/>
<rect x="116" y="689" width="3" height="49" fill="#00FF00"/>
<rect x="132" y="689" width="3" height="48" fill="#00FF00"/>
<rect x="148" y="689" width="3" height="46" fill="#00FF00"/>
<rect x="164" y="689" width="3" height="48" fill="#00FF00"/>
<rect x="180" y="689" width="3" height="51" fill="#00FF00"/>
<rect x="196" y="689" width="3" height="47" fill="#00FF00"/>
<rect x="212" y="689" width="3" height="43" fill="#00FF00"/>
<rect x="228" y="689" width="3" height="47" fill="#00FF00"/>
<rect x="244" y="689" width="3" height="50" fill="#00FF00"/>
<rect x="260" y="689" width="3" height="50" fill="#00FF00"/>
<rect x="276" y="689" width="3" height="48" fill="#00FF00"/>
<rect x="292" y="689" width="3" height="40" fill="#00FF00"/>
<rect x="308" y="689" width="3" height="34" fill="#00FF00"/>
<rect x="324" y="689" width="3" height="28" fill="#00FF00"/>
<rect x="340" y="689" width="3" height="19" fill="#00FF00"/>
<rect x="356" y="689" width="3" height="12" fill="#00FF00"/>
<rect x="372" y="689" width="3" height="8" fill="#00FF00"/>
<rect x="388" y="689" width="3" height="6" fill="#00FF00"/>
<rect x="404" y="689" width="3" height="6" fill="#00FF00"/>
<rect x="420" y="689" width="3" height="6" fill="#00FF00"/>
<rect x="436" y="689" width="3" height="4" fill="#00FF00"/>
<rect x="452" y="686" width="3" height="3" fill="#00FF00"/>
<rect x="468" y="681" width="3" height="8" fill="#00FF00"/>
<rect x="484" y="678" width="3" height="11" fill="#00FF00"/>
<rect x="500" y="674" width="3" height="15" fill="#00FF00"/>
<rect x="516" y="668" width="3" height="21" fill="#00FF00"/>
<rect x="532" y="664" width="3" height="25" fill="#00FF00"/>
<rect x="548" y="663" width="3" height="26" fill="#00FF00"/>
<rect x="564" y="661" width="3" height="28" fill="#00FF00"/>
<rect x="580" y="662" width="3" height="27" fill="#00FF00"/>
<rect x="596" y="663" width="3" height="26" fill="#00FF00"/>
<rect x="612" y="664" width="3" height="25" fill="#00FF00"/>
<rect x="628" y="665" width="3" height="24" fill="#00FF00"/>
<rect x="644" y="664" width="3" height="25" fill="#00FF00"/>
<rect x="660" y="663" width="3" height="26" fill="#00FF00"/>
<rect x="676" y="663" width="3" height="26" fill="#00FF00"/>
<rect x="692" y="666" width="3" height="23" fill="#00FF00"/>
<rect x="708" y="668" width="3" height="21" fill="#00FF00"/>
<rect x="724" y="669" width="3" height="20" fill="#00FF00"/>
<rect x="740" y="670" width="3" height="19" fill="#00FF00"/>
<rect x="756" y="670" width="3" height="19" fill="#00FF00"/>
<rect x="772" y="669" width="3" height="20" fill="#00FF00"/>
<rect x="788" y="667" width="3" height="22" fill="#00FF00"/>
<rect x="804" y="665" width="3" height="24" fill="#00FF00"/>
<rect x="820" y="665" width="3" height="24" fill="#00FF00"/>
<rect x="836" y="666" width="3" height="23" fill="#00FF00"/>
<rect x="852" y="670" width="3" height="19" fill="#00FF00"/>
<rect x="868" y="672" width="3" height="17" fill="#00FF00"/>
<rect x="884" y="674" width="3" height="15" fill="#00FF00"/>
<rect x="900" y="677" width="3" height="12" fill="#00FF00"/>
<rect x="916" y="683" width="3" height="6" fill="#00FF00"/>
<rect x="932" y="688" width="3" height="1" fill="#00FF00"/>
<rect x="948" y="689" width="3" height="5" fill="#00FF00"/>
<rect x="964" y="689" width="3" height="12" fill="#00FF00"/>
<rect x="980" y="689" width="3" height="18" fill="#00FF00"/>
<rect x="996" y="689" width="3" height="21" fill="#00FF00"/>
<rect x="1012" y="689" width="3" height="23" fill="#00FF00"/>
<rect x="1028" y="689" width="3" height="24" fill="#00FF00"/>
<rect x="1044" y="689" width="3" height="25" fill="#00FF00"/>
<rect x="1060" y="689" width="3" height="22" fill="#00FF00"/>
<rect x="1076" y="689" width="3" height="22" fill="#00FF00"/>
<rect x="1092" y="689" width="3" height="20" fill="#00FF00"/>
<rect x="1108" y="689" width="3" height="20" fill="#00FF00"/>
<rect x="1124" y="689" width="3" height="22" fill="#00FF00"/>
<rect x="1140" y="689" width="3" height="24" fill="#00FF00"/>
<rect x="1156" y="689" width="3" height="21" fill="#00FF00"/>
<rect x="1172" y="689" width="3" height="19" fill="#00FF00"/>
<rect x="1188" y="689" width="3" height="15" fill="#00FF00"/>
<rect x="1204" y="689" width="3" height="12" fill="#00FF00"/>
<rect x="1220" y="689" width="3" height="8" fill="#00FF00"/>
<rect x="1236" y="689" width="3" height="2" fill="#00FF00"/>
<rect x="1252" y="689" width="3" height="1" fill="#00FF00"/>
<rect x="1268" y="689" width="3" height="3" fill="#00FF00"/>
<rect x="1284" y="689" width="3" height="7" fill="#00FF00"/>
<rect x="1300" y="689" width="3" height="8" fill="#00FF00"/>
<rect x="1316" y="689" width="3" height="11" fill="#00FF00"/>
<rect x="1332" y="689" width="3" height="12" fill="#00FF00"/>
<rect x="4" y="31" width="1641" height="1" fill="#000"/>
<rect x="4" y="31" width="1" height="624" fill="#000"/>
<rect x="4" y="654" width="1641" height="1" fill="#000"/>
<rect x="4" y="656" width="1641" height="1" fill="#000"/>
<rect x="4" y="656" width="1" height="88" fill="#000"/>
<rect x="4" y="743" width="1641" height="1" fill="#000"/>
<rect x="4" y="745" width="1641" height="1" fill="#000"/>
<rect x="4" y="745" width="1" height="92" fill="#000"/>
<rect x="4" y="836" width="1641" height="1" fill="#000"/>
<rect x="1644" y="31" width="1" height="806" fill="#000"/>
<rect x="5" y="307" width="1641" height="2" fill="#FF0000"/>
<rect x="5" y="343" width="1641" height="2" fill="#FF0000"/>
<rect x="5" y="381" width="1641" height="2" fill="#FF8C00"/>
<rect x="5" y="435" width="1641" height="2" fill="#0000FF"/>
<rect x="5" y="471" width="1641" height="2" fill="#0000FF"/>
<line x1="6" y1="764.5" x2="1644" y2="764.5" stroke="#000" stroke-width="1" stroke-dasharray="3 3"/>
<line x1="6" y1="791.5" x2="1644" y2="791.5" stroke="#000" stroke-width="1" stroke-dasharray="3 3"/>
<line x1="6" y1="822.5" x2="1644" y2="822.5" stroke="#000" stroke-width="1" stroke-dasharray="3 3"/>
<rect x="1645" y="57" width="2" height="1" fill="#000"/>
<rect x="1645" y="90" width="2" height="1" fill="#000"/>
<rect x="1645" y="123" width="2" height="1" fill="#000"/>
<rect x="1645" y="156" width="2" height="1" fill="#000"/>
<rect x="1645" y="189" width="2" height="1" fill="#000"/>
<rect x="1645" y="222" width="2" height="1" fill="#000"/>
<rect x="1645" y="255" width="2" height="1" fill="#000"/>
<rect x="1645" y="288" width="2" height="1" fill="#000"/>
<rect x="1645" y="321" width="2" height="1" fill="#000"/>
<rect x="1645" y="354" width="2" height="1" fill="#000"/>
<rect x="1645" y="387" width="2" height="1" fill="#000"/>
<rect x="1645" y="420" width="2" height="1" fill="#000"/>
<rect x="1645" y="453" width="2" height="1" fill="#000"/>
<rect x="1645" y="486" width="2" height="1" fill="#000"/>
<rect x="1645" y="519" width="2" height="1" fill="#000"/>
<rect x="1645" y="552" width="2" height="1" fill="#000"/>
<rect x="1645" y="585" width="2" height="1" fill="#000"/>
<rect x="1645" y="618" width="2" height="1" fill="#000"/>
<rect x="1645" y="651" width="2" height="1" fill="#000"/>
<rect x="1645" y="689" width="2" height="1" fill="#000"/>
<rect x="5" y="837" width="1" height="3" fill="#000"/>
<rect x="69" y="837" width="1" height="3" fill="#000"/>
<rect x="133" y="837" width="1" height="3" fill="#000"/>
<rect x="197" y="837" width="1" height="3" fill="#000"/>
<rect x="261" y="837" width="1" height="3" fill="#000"/>
<rect x="325" y="837" width="1" height="3" fill="#000"/>
<rect x="389" y="837" width="1" height="3" fill="#000"/>
<rect x="453" y="837" width="1" height="3" fill="#000"/>
<rect x="517" y="837" width="1" height="3" fill="#000"/>
<rect x="581" y="837" width="1" height="3" fill="#000"/>
<rect x="645" y="837" width="1" height="3" fill="#000"/>
<rect x="709" y="837" width="1" height="3" fill="#000"/>
<rect x="773" y="837" width="1" height="3" fill="#000"/>
<rect x="837" y="837" width="1" height="3" fill="#000"/>
<rect x="901" y="837" width="1" height="3" fill="#000"/>
<rect x="965" y="837" width="1" height="3" fill="#000"/>
<rect x="1029" y="837" width="1" height="3" fill="#000"/>
<rect x="1093" y="837" width="1" height="3" fill="#000"/>
<rect x="1157" y="837" width="1" height="3" fill="#000"/>
<rect x="1221" y="837" width="1" height="3" fill="#000"/>
<rect x="1285" y="837" width="1" height="3" fill="#000"/>
</g>
<path d="M1359.5 31.5 L1369.5 31.5 L1364.5 37.2 Z" fill="#000"/>
<polyline points="5.5,705.0 21.5,705.0 37.5,705.0 53.5,707.7 69.5,710.3 85.5,715.0 101.5,719.0 117.5,723.0 133.5,726.7 149.5,729.3 165.5,731.7 181.5,733.7 197.5,734.7 213.5,735.0 229.5,735.7 245.5,735.7 261.5,735.7 277.5,735.7 293.5,735.0 309.5,733.3 325.5,731.3 341.5,728.7 357.5,725.0 373.5,720.7 389.5,715.7 405.5,710.7 421.5,706.3 437.5,702.3 453.5,698.3 469.5,694.3 485.5,691.3 501.5,688.3 517.5,685.7 533.5,681.3 549.5,677.7 565.5,674.3 581.5,671.7 597.5,669.0 613.5,666.7 629.5,665.7 645.5,664.7 661.5,663.3 677.5,663.0 693.5,664.0 709.5,664.3 725.5,665.7 741.5,667.0 757.5,667.0 773.5,667.0 789.5,667.0 805.5,667.3 821.5,667.7 837.5,667.7 853.5,667.7 869.5,667.7 885.5,668.0 901.5,669.0 917.5,671.3 933.5,673.7 949.5,676.7 965.5,680.3 981.5,685.0 997.5,689.0 1013.5,693.7 1029.5,698.3 1045.5,702.3 1061.5,705.7 1077.5,707.7 1093.5,709.7 1109.5,709.7 1125.5,710.7 1141.5,711.0 1157.5,710.7 1173.5,710.3 1189.5,709.3 1205.5,708.0 1221.5,706.3 1237.5,704.3 1253.5,702.3 1269.5,700.3 1285.5,698.3 1301.5,697.0 1317.5,696.3 1333.5,695.7" fill="none" stroke="#FF0000" stroke-width="2" stroke-linejoin="round" shape-rendering="crispEdges"/>
<polyline points="5.5,798.7 21.5,801.0 37.5,807.7 53.5,807.7 69.5,799.7 85.5,801.7 101.5,804.7 117.5,804.7 133.5,800.0 149.5,798.7 165.5,802.3 181.5,804.0 197.5,796.0 213.5,796.0 229.5,802.3 245.5,804.3 261.5,801.0 277.5,798.3 293.5,792.0 309.5,791.7 325.5,790.0 341.5,787.0 357.5,787.3 373.5,789.3 389.5,790.3 405.5,792.7 421.5,792.3 437.5,790.0 453.5,783.7 469.5,783.7 485.5,785.7 501.5,782.0 517.5,781.0 533.5,781.0 549.5,783.7 565.5,782.3 581.5,785.7 597.5,786.0 613.5,786.0 629.5,786.0 645.5,784.3 661.5,781.7 677.5,785.3 693.5,786.3 709.5,789.0 725.5,786.3 741.5,786.0 757.5,785.7 773.5,782.3 789.5,778.7 805.5,781.7 821.5,782.0 837.5,785.0 853.5,790.7 869.5,790.0 885.5,790.0 901.5,793.3 917.5,798.3 933.5,799.7 949.5,800.0 965.5,806.7 981.5,807.0 997.5,801.0 1013.5,801.3 1029.5,801.7 1045.5,800.3 1061.5,795.0 1077.5,798.0 1093.5,796.3 1109.5,796.3 1125.5,802.7 1141.5,801.7 1157.5,792.7 1173.5,792.0 1189.5,790.0 1205.5,789.7 1221.5,786.3 1237.5,784.7 1253.5,787.0 1269.5,796.7 1285.5,798.0 1301.5,798.0 1317.5,798.0 1333.5,798.0" fill="none" stroke="#1E90FF" stroke-width="2" stroke-linejoin="round" shape-rendering="crispEdges"/>
<g fill="#4E9A2C" stroke="none"><path d="M1313.8 275.7 L1386 357.6" stroke="#4E9A2C" stroke-width="3" fill="none"/><path d="M1395.3 370 L1377.3 362.4 L1391 351.3 Z"/></g>
<g font-family="Liberation Sans, sans-serif" font-size="9" fill="#000" stroke="#000" stroke-width="0.25">
<text x="1650.5" y="60.3">20907.5</text>
<text x="1650.5" y="93.3">20788.5</text>
<text x="1650.5" y="126.3">20673.0</text>
<text x="1650.5" y="159.3">20554.0</text>
<text x="1650.5" y="192.3">20438.5</text>
<text x="1650.5" y="225.3">20323.0</text>
<text x="1650.5" y="258.3">20204.0</text>
<text x="1650.5" y="291.3">20088.5</text>
<text x="1650.5" y="324.3">19969.5</text>
<text x="1650.5" y="357.3">19854.0</text>
<text x="1650.5" y="390.3">19735.0</text>
<text x="1650.5" y="423.3">19619.5</text>
<text x="1650.5" y="456.3">19500.5</text>
<text x="1650.5" y="489.3">19385.0</text>
<text x="1650.5" y="522.3">19266.0</text>
<text x="1650.5" y="555.3">19150.5</text>
<text x="1650.5" y="588.3">19031.5</text>
<text x="1650.5" y="621.3">18916.0</text>
<text x="1650.5" y="654.3">18800.5</text>
<text x="1648.5" y="667">207.99</text><text x="1648.5" y="692.8">0.00</text><text x="1648.5" y="740.3">-355.08</text>
<text x="1648.5" y="756">100</text><text x="1648.5" y="767.8">80</text><text x="1648.5" y="794.8">50</text><text x="1648.5" y="825.8">15</text><text x="1648.5" y="833.5">0</text>
<rect x="1646" y="302" width="41" height="11" fill="#FF0000" shape-rendering="crispEdges"/>
<text x="1650.5" y="310.1" fill="#fff" stroke="#fff">20016.0</text>
<rect x="1646" y="338" width="41" height="11" fill="#FF0000" shape-rendering="crispEdges"/>
<text x="1650.5" y="346.1" fill="#fff" stroke="#fff">19888.5</text>
<rect x="1646" y="376" width="41" height="11" fill="#FF8C00" shape-rendering="crispEdges"/>
<text x="1650.5" y="384.1" fill="#fff" stroke="#fff">19753.8</text>
<rect x="1646" y="392" width="41" height="11" fill="#000000" shape-rendering="crispEdges"/>
<text x="1650.5" y="400.1" fill="#fff" stroke="#fff">19701.5</text>
<rect x="1646" y="430" width="41" height="11" fill="#0000FF" shape-rendering="crispEdges"/>
<text x="1650.5" y="438.1" fill="#fff" stroke="#fff">19562.5</text>
<rect x="1646" y="466" width="41" height="11" fill="#0000FF" shape-rendering="crispEdges"/>
<text x="1650.5" y="474.1" fill="#fff" stroke="#fff">19434.9</text>
<text y="42.5"><tspan x="20.2" textLength="40.3">HK50-,H4</tspan><tspan x="67.4" textLength="32.6">19681.5</tspan><tspan x="103.4" textLength="32.6">19714.5</tspan><tspan x="139.1" textLength="32.6">19514.5</tspan><tspan x="175.3" textLength="32.3">19701.5</tspan></text>
<path d="M8 38 L15.4 38 L11.7 42.2 Z" fill="#000"/>
<text y="668.8"><tspan x="9.5" textLength="64.8">MACD(12,26,9)</tspan><tspan x="78.2" textLength="25.7">-72.64</tspan><tspan x="107.3" textLength="25.3">-43.40</tspan></text>
<text y="757.8"><tspan x="9.5">RSI(15)</tspan><tspan x="44" textLength="32.4">43.4361</tspan></text>
<text x="4.3" y="849" letter-spacing="0.17">9 Mar 2023</text>
<text x="68.3" y="849" letter-spacing="0.17">13 Mar 01:15</text>
<text x="132.3" y="849" letter-spacing="0.17">15 Mar 01:15</text>
<text x="196.3" y="849" letter-spacing="0.17">17 Mar 01:15</text>
<text x="260.3" y="849" letter-spacing="0.17">21 Mar 01:15</text>
<text x="324.3" y="849" letter-spacing="0.17">23 Mar 01:15</text>
<text x="388.3" y="849" letter-spacing="0.17">27 Mar 01:15</text>
<text x="452.3" y="849" letter-spacing="0.17">29 Mar 01:15</text>
<text x="516.3" y="849" letter-spacing="0.17">31 Mar 01:15</text>
<text x="580.3" y="849" letter-spacing="0.28">4 Apr 01:15</text>
<text x="644.3" y="849" letter-spacing="0.28">11 Apr 01:15</text>
<text x="708.3" y="849" letter-spacing="0.28">13 Apr 01:15</text>
<text x="772.3" y="849" letter-spacing="0.28">17 Apr 01:15</text>
<text x="836.3" y="849" letter-spacing="0.28">19 Apr 01:15</text>
<text x="900.3" y="849" letter-spacing="0.28">21 Apr 01:15</text>
<text x="964.3" y="849" letter-spacing="0.28">25 Apr 01:15</text>
<text x="1028.3" y="849" letter-spacing="0.28">27 Apr 01:15</text>
<text x="1092.3" y="849" letter-spacing="0.35">2 May 01:15</text>
<text x="1156.3" y="849" letter-spacing="0.35">4 May 01:15</text>
<text x="1220.3" y="849" letter-spacing="0.35">8 May 01:15</text>
<text x="1284.3" y="849" letter-spacing="0.35">10 May 01:15</text>
</g>
</svg>
</body></html>
